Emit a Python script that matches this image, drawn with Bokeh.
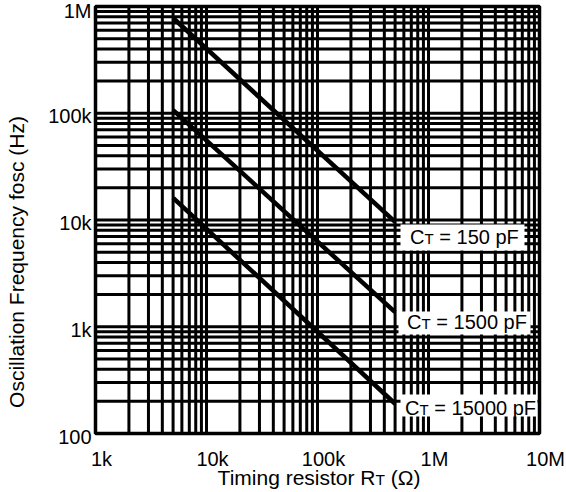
import numpy as np
from bokeh.plotting import figure
from bokeh.models import Range1d
from bokeh.core.properties import value
from bokeh.embed import file_html
from bokeh.resources import INLINE

# ---- data ----
rt_ohm = [5e3, 5e5]
fosc_150pf = [7.8e5, 9.6e3]
fosc_1500pf = [1.07e5, 1.37e3]
fosc_15000pf = [1.61e4, 1.9e2]
ct_values = ["150 pF", "1500 pF", "15000 pF"]

x_major = [1e3, 1e4, 1e5, 1e6, 1e7]
x_major_labels = ["1k", "10k", "100k", "1M", "10M"]
y_major = [1e2, 1e3, 1e4, 1e5, 1e6]
y_major_labels = ["100", "1k", "10k", "100k", "1M"]
x_minor = [m * 10.0 ** k for k in range(3, 7) for m in range(2, 10)]
y_minor = [m * 10.0 ** k for k in range(2, 6) for m in range(2, 10)]

# ---- layout: the data box [1e3,1e7]x[1e2,1e6] sits at these pixels ----
W, H = 566, 492
L, R, T, B = 95, 27, 6, 59
FW, FH = W - L - R, H - T - B
FONT = "Liberation Sans"
XMIN, XMAX, YMIN, YMAX = x_major[0], x_major[-1], y_major[0], y_major[-1]


def xd(px):
    return 10 ** (np.log10(XMIN) + np.log10(XMAX / XMIN) * (px - L) / FW)


def yd(py):
    return 10 ** (np.log10(YMIN) + np.log10(YMAX / YMIN) * (T + FH - py) / FH)


def ypx(v):
    return T + FH - FH * np.log10(v / YMIN) / np.log10(YMAX / YMIN)


def mid(size):
    # distance from alphabetic baseline up to the text's vertical middle
    return 0.35 * size


p = figure(width=W, height=H, x_axis_type="log", y_axis_type="log",
           x_range=Range1d(xd(0), xd(W)), y_range=Range1d(yd(H), yd(0)),
           x_axis_location=None, y_axis_location=None,
           output_backend="svg", toolbar_location=None, min_border=0)
p.title = None
p.background_fill_color = "white"
p.border_fill_color = "white"
p.outline_line_color = None
p.xgrid.visible = False
p.ygrid.visible = False

# ---- grid (every 1..9 x decade) ----
gx = x_major + x_minor
gy = y_major + y_minor
p.segment(x0=gx, y0=[YMIN] * len(gx), x1=gx, y1=[YMAX] * len(gx),
          line_width=3, line_color="black")
p.segment(x0=[XMIN] * len(gy), y0=gy, x1=[XMAX] * len(gy), y1=gy,
          line_width=3, line_color="black")

# ---- curves ----
for f in (fosc_150pf, fosc_1500pf, fosc_15000pf):
    p.line(rt_ohm, f, line_width=4.5, line_color="black")

# ---- label boxes (white backgrounds) ----
boxes_px = [(400, 524, 224, 250), (398, 530, 311, 334), (400, 537, 394, 416)]
p.quad(left=[xd(b[0]) for b in boxes_px], right=[xd(b[1]) for b in boxes_px],
       top=[yd(b[2]) for b in boxes_px], bottom=[yd(b[3]) for b in boxes_px],
       fill_color="white", line_color=None)

# ---- frame ----
p.quad(left=[XMIN], right=[XMAX], bottom=[YMIN], top=[YMAX],
       fill_color=None, line_color="black", line_width=3.5)

# ---- curve labels: C, small T, "= ... pF" ----
anchors_px = [(424, 243), (421, 328), (419, 414)]
ax_ = [xd(a[0]) for a in anchors_px]
p.text(x=ax_, y=[yd(a[1] - mid(20)) for a in anchors_px], text=["C"] * 3,
       text_align="right", text_baseline="middle",
       text_font=value(FONT), text_font_size=value("20px"), text_color="black")
p.text(x=ax_, y=[yd(a[1] - mid(15)) for a in anchors_px], text=["T"] * 3,
       text_align="left", text_baseline="middle",
       text_font=value(FONT), text_font_size=value("15px"), text_color="black")
p.text(x=ax_, y=[yd(a[1] - mid(20)) for a in anchors_px],
       text=["= " + c for c in ct_values], x_offset=14.8,
       text_align="left", text_baseline="middle",
       text_font=value(FONT), text_font_size=value("20px"), text_color="black")

# ---- tick labels ----
p.text(x=x_major, y=[YMIN] * len(x_major), text=x_major_labels,
       x_offset=6, y_offset=25, text_align="center", text_baseline="middle",
       text_font=value(FONT), text_font_size=value("20px"), text_color="black")
y_lab_off = [max(3.0, 10.5 - ypx(v)) for v in y_major]  # keep top label inside canvas
p.text(x=[XMIN] * len(y_major), y=y_major, text=y_major_labels,
       x_offset=-4, y_offset=y_lab_off, text_align="right", text_baseline="middle",
       text_font=value(FONT), text_font_size=value("20px"), text_color="black")

# ---- axis titles ----
xt_anchor, xt_base = 375, 484
p.text(x=[xd(xt_anchor)], y=[yd(xt_base - mid(21))], text=["Timing resistor R"],
       text_align="right", text_baseline="middle",
       text_font=value(FONT), text_font_size=value("21px"), text_color="black")
p.text(x=[xd(xt_anchor)], y=[yd(xt_base - mid(15.5))], text=["T"],
       text_align="left", text_baseline="middle",
       text_font=value(FONT), text_font_size=value("15.5px"), text_color="black")
p.text(x=[xd(xt_anchor)], y=[yd(xt_base - mid(21))], text=["(\u03a9)"], x_offset=15.3,
       text_align="left", text_baseline="middle",
       text_font=value(FONT), text_font_size=value("21px"), text_color="black")

p.text(x=[xd(23 - mid(21))], y=[yd(261.5)], text=["Oscillation Frequency fosc (Hz)"],
       angle=np.pi / 2, text_align="center", text_baseline="middle",
       text_font=value(FONT), text_font_size=value("21px"), text_color="black")

html = file_html(p, INLINE)
html = html.replace("<head>", "<head><style>html,body{margin:0;padding:0;}</style>", 1)
open("out.html", "w").write(html)
